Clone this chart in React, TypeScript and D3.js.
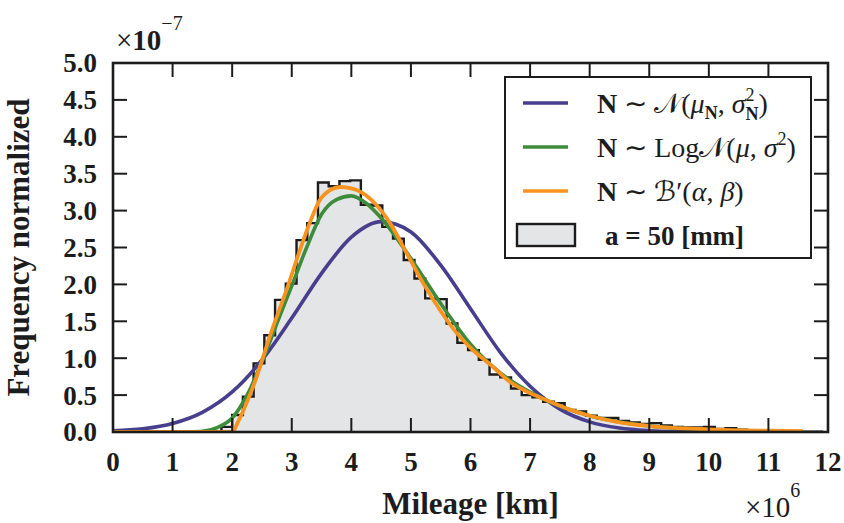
import React from 'react';
import * as d3 from 'd3';

const xTickValues = [0, 1, 2, 3, 4, 5, 6, 7, 8, 9, 10, 11, 12];
const yTickValues = [0, 0.5, 1, 1.5, 2, 2.5, 3, 3.5, 4, 4.5, 5];
const yTickLabels = ['0.0', '0.5', '1.0', '1.5', '2.0', '2.5', '3.0', '3.5', '4.0', '4.5', '5.0'];

const histStart = 1.82;
const histBinWidth = 0.18;
const histHeights = [
  0.07, 0.23, 0.48, 0.93, 1.31, 1.79, 2.01, 2.6, 2.83, 3.38, 3.33, 3.4, 3.41, 3.08, 3.07, 2.78,
  2.62, 2.33, 2.08, 1.81, 1.8, 1.47, 1.21, 1.11, 0.98, 0.78, 0.74, 0.59, 0.5, 0.47, 0.41, 0.39,
  0.3, 0.28, 0.22, 0.19, 0.19, 0.15, 0.13, 0.11, 0.12, 0.09, 0.07, 0.06, 0.06, 0.07, 0.04, 0.05,
  0.03, 0.02, 0.02, 0.015, 0.01, 0.01, 0.005, 0.004,
];

const normalX = [0, 0.5, 1, 1.5, 2, 2.5, 3, 3.5, 4, 4.5, 5, 5.5, 6, 6.5, 7, 7.5, 8, 8.5, 9, 9.5, 10, 10.5, 11, 11.58];
const normalY = [0.015, 0.043, 0.115, 0.266, 0.543, 0.976, 1.544, 2.15, 2.64, 2.85, 2.71, 2.26, 1.67, 1.08, 0.62, 0.31, 0.137, 0.053, 0.018, 0.0055, 0.0015, 0.0003, 0.0001, 0];

const lognormX = [0, 1, 1.25, 1.5, 1.75, 2, 2.25, 2.5, 2.75, 3, 3.25, 3.5, 3.75, 4, 4.25, 4.5, 5, 5.5, 6, 6.5, 7, 7.5, 8, 8.5, 9, 9.5, 10, 10.5, 11, 11.58];
const lognormY = [0, 0, 0.002, 0.01, 0.06, 0.19, 0.5, 0.95, 1.47, 1.98, 2.5, 2.95, 3.15, 3.2, 3.1, 2.9, 2.35, 1.74, 1.19, 0.8, 0.54, 0.35, 0.22, 0.135, 0.083, 0.05, 0.03, 0.018, 0.011, 0.006];

const betaX = [0, 1.5, 2.0, 2.1, 2.24, 2.4, 2.52, 2.69, 2.91, 3.14, 3.3, 3.47, 3.65, 3.81, 4.0, 4.14, 4.37, 4.65, 4.93, 5.21, 5.49, 5.77, 6.0, 6.38, 6.66, 6.94, 7.28, 7.61, 8.0, 8.5, 9.0, 10, 11, 11.58];
const betaY = [0, 0, 0, 0.14, 0.39, 0.72, 1.02, 1.43, 1.92, 2.47, 2.83, 3.14, 3.28, 3.32, 3.3, 3.26, 3.12, 2.83, 2.42, 2.01, 1.65, 1.34, 1.14, 0.88, 0.68, 0.55, 0.43, 0.32, 0.22, 0.13, 0.08, 0.036, 0.018, 0.012];

const COL_N = '#473f8d';
const COL_LN = '#3c8c3c';
const COL_B = '#f7931e';
const HIST_FILL = '#e4e5e7';
const INK = '#1c1c1c';

const W = 844, H = 523;
const M = { left: 113, right: 828, top: 63, bottom: 432 };
const SERIF = "'Liberation Serif', 'Times New Roman', serif";

export default function App() {
  const x = d3.scaleLinear().domain([0, 12]).range([M.left, M.right]);
  const y = d3.scaleLinear().domain([0, 5]).range([M.bottom, M.top]);

  const histPts: [number, number][] = [];
  histHeights.forEach((h, i) => {
    const x0 = histStart + i * histBinWidth;
    histPts.push([x0, h]);
  });
  const histEnd = histStart + histHeights.length * histBinWidth;
  histPts.push([histEnd, histHeights[histHeights.length - 1]]);

  const area = d3.area<[number, number]>()
    .x(d => x(d[0])).y0(y(0)).y1(d => y(d[1])).curve(d3.curveStepAfter);
  const stepLine = d3.line<[number, number]>()
    .x(d => x(d[0])).y(d => y(d[1])).curve(d3.curveStepAfter);
  const outlinePts: [number, number][] = [[histStart, 0], ...histPts, [histEnd, 0]];

  const line = d3.line<number>().curve(d3.curveMonotoneX);
  const mk = (xs: number[], ys: number[]) => line.x((_, i) => x(xs[i])).y((_, i) => y(ys[i]))(xs) || '';

  const tickLen = 14;
  const legendX = 505, legendY = 77, legendW = 306, legendH = 181;
  const entries = [0, 1, 2, 3].map(i => legendY + 26 + i * 44);
  const fs = 28;

  return (
    <svg width={W} height={H} style={{ position: 'absolute', left: 0, top: 0, background: '#fff' }}
      fontFamily={SERIF}>
      <defs>
        <clipPath id="plot">
          <rect x={M.left} y={M.top} width={M.right - M.left} height={M.bottom - M.top} />
        </clipPath>
      </defs>
      {/* histogram */}
      <path d={area(histPts) || ''} fill={HIST_FILL} stroke="none" />
      <path d={stepLine(outlinePts) || ''} fill="none" stroke={INK} strokeWidth={2.4} />
      {/* curves */}
      <g clipPath="url(#plot)" fill="none" strokeLinejoin="round" strokeLinecap="butt">
        <path d={mk(normalX, normalY)} stroke={COL_N} strokeWidth={3.6} />
        <path d={mk(lognormX, lognormY)} stroke={COL_LN} strokeWidth={3.6} />
        <path d={mk(betaX, betaY)} stroke={COL_B} strokeWidth={3.8} />
      </g>
      {/* ticks */}
      <g stroke={INK} strokeWidth={2}>
        {xTickValues.map(v => (
          <g key={'xt' + v}>
            <line x1={x(v)} x2={x(v)} y1={M.bottom} y2={M.bottom - tickLen} />
            <line x1={x(v)} x2={x(v)} y1={M.top} y2={M.top + tickLen} />
          </g>
        ))}
        {yTickValues.map(v => (
          <g key={'yt' + v}>
            <line x1={M.left} x2={M.left + tickLen} y1={y(v)} y2={y(v)} />
            <line x1={M.right} x2={M.right - tickLen} y1={y(v)} y2={y(v)} />
          </g>
        ))}
      </g>
      <rect x={M.left} y={M.top} width={M.right - M.left} height={M.bottom - M.top}
        fill="none" stroke={INK} strokeWidth={2.6} />
      {/* tick labels */}
      <g fontWeight="bold" fontSize={27} fill={INK}>
        {xTickValues.map(v => (
          <text key={'xl' + v} x={x(v)} y={471} textAnchor="middle">{v}</text>
        ))}
        {yTickValues.map((v, i) => (
          <text key={'yl' + v} x={97} y={y(v)} dy="0.35em" textAnchor="end">{yTickLabels[i]}</text>
        ))}
      </g>
      {/* axis labels */}
      <text x={(M.left + M.right) / 2} y={514} textAnchor="middle" fontWeight="bold" fontSize={31} fill={INK}>Mileage [km]</text>
      <text transform={`translate(29,${(M.top + M.bottom) / 2}) rotate(-90)`} textAnchor="middle"
        fontWeight="bold" fontSize={31} fill={INK}>Frequency normalized</text>
      {/* offset texts */}
      <text x={116} y={50} fontSize={29} fill={INK}>
        <tspan>×</tspan><tspan fontWeight="bold">10</tspan>
        <tspan fontSize={20} dy={-20}>−7</tspan>
      </text>
      <text x={745} y={517} fontSize={29} fill={INK}>
        <tspan>×</tspan><tspan>10</tspan>
        <tspan fontSize={20} dy={-20}>6</tspan>
      </text>
      {/* legend */}
      <rect x={legendX} y={legendY} width={legendW} height={legendH} fill="#fff" stroke={INK} strokeWidth={2} />
      <line x1={523} x2={568} y1={entries[0]} y2={entries[0]} stroke={COL_N} strokeWidth={3.6} />
      <line x1={523} x2={568} y1={entries[1]} y2={entries[1]} stroke={COL_LN} strokeWidth={3.6} />
      <line x1={523} x2={568} y1={entries[2]} y2={entries[2]} stroke={COL_B} strokeWidth={3.6} />
      <rect x={517} y={entries[3] - 11} width={58} height={22} fill={HIST_FILL} stroke={INK} strokeWidth={2.4} />
      <g fontSize={fs} fill={INK}>
        <text x={597} y={entries[0] + 10}>
          <tspan fontWeight="bold">N</tspan><tspan> ∼ </tspan><tspan>𝒩</tspan><tspan>(</tspan>
          <tspan fontStyle="italic">μ</tspan><tspan fontWeight="bold" fontSize={18} dy={6}>N</tspan>
          <tspan dy={-6}>, </tspan><tspan fontStyle="italic">σ</tspan>
          <tspan fontSize={18} dy={-12}>2</tspan>
          <tspan fontWeight="bold" fontSize={18} dx={-9} dy={19}>N</tspan>
          <tspan dy={-7}>)</tspan>
        </text>
        <text x={597} y={entries[1] + 10}>
          <tspan fontWeight="bold">N</tspan><tspan> ∼ Log</tspan><tspan>𝒩</tspan><tspan>(</tspan>
          <tspan fontStyle="italic">μ</tspan><tspan>, </tspan><tspan fontStyle="italic">σ</tspan>
          <tspan fontSize={18} dy={-12}>2</tspan><tspan dy={12}>)</tspan>
        </text>
        <text x={597} y={entries[2] + 10}>
          <tspan fontWeight="bold">N</tspan><tspan> ∼ </tspan><tspan>ℬ′</tspan><tspan>(</tspan>
          <tspan fontStyle="italic">α</tspan><tspan>, </tspan><tspan fontStyle="italic">β</tspan><tspan>)</tspan>
        </text>
        <text x={605} y={entries[3] + 10} fontWeight="bold" fontSize={27}>a = 50 [mm]</text>
      </g>
    </svg>
  );
}
